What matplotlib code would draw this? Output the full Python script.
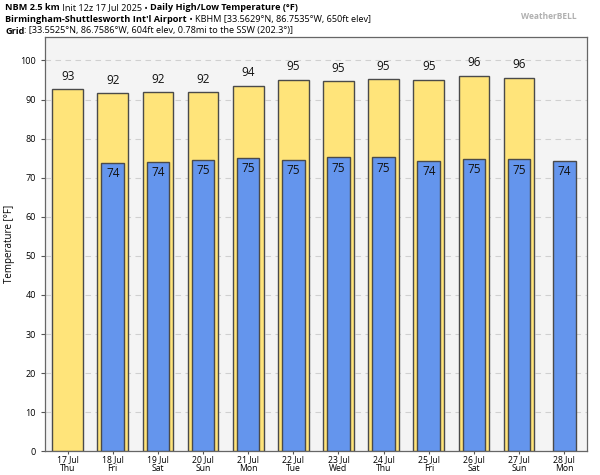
import numpy as np
import matplotlib
matplotlib.use("Agg")
import matplotlib.pyplot as plt

# -----------------------------
# Data
# -----------------------------
dates = ["17 Jul", "18 Jul", "19 Jul", "20 Jul", "21 Jul", "22 Jul",
         "23 Jul", "24 Jul", "25 Jul", "26 Jul", "27 Jul", "28 Jul"]
weekdays = ["Thu", "Fri", "Sat", "Sun", "Mon", "Tue",
            "Wed", "Thu", "Fri", "Sat", "Sun", "Mon"]
highs = [92.6, 91.7, 91.9, 91.9, 93.6, 95.1, 94.7, 95.3, 95.1, 96.1, 95.6, np.nan]
lows = [np.nan, 73.8, 74.0, 74.6, 75.0, 74.6, 75.2, 75.2, 74.4, 74.9, 74.7, 74.4]

plt.rcParams["font.family"] = ["Open Sans", "DejaVu Sans"]

fig = plt.figure(figsize=(6, 4.75), dpi=100)
ax = fig.add_axes([0.075, 0.05, 0.903, 0.872])
ax.set_facecolor("#f4f4f4")

x = np.arange(len(dates))
edge = "#4a4a4a"
ax.bar(x, highs, width=0.68, color="#ffe47a", edgecolor=edge, linewidth=1.0, zorder=3)
ax.bar(x, lows, width=0.5, color="#6495ed", edgecolor=edge, linewidth=1.0, zorder=4)


def lab(v):
    return str(int(np.floor(v + 0.5)))


for xi, h in zip(x, highs):
    if not np.isnan(h):
        ax.annotate(lab(h), (xi, h), xytext=(0, 4.5), textcoords="offset points",
                    ha="center", va="bottom", fontsize=8.5, color="#111111", zorder=5)
for xi, lo in zip(x, lows):
    if not np.isnan(lo):
        ax.annotate(lab(lo), (xi, lo), xytext=(0, -3), textcoords="offset points",
                    ha="center", va="top", fontsize=8.5, color="#111111", zorder=5)

ax.set_xlim(-0.5, len(dates) - 0.5)
ax.set_ylim(0, 106)
ax.set_yticks(np.arange(0, 101, 10))
ax.set_xticks(x)
ax.set_xticklabels([f"{d}\n{w}" for d, w in zip(dates, weekdays)], fontsize=6.2,
                   linespacing=0.95)
ax.tick_params(axis="y", labelsize=6.5, length=3, color="#555555")
ax.tick_params(axis="x", length=2, pad=1, color="#555555")
ax.set_ylabel("Temperature [°F]", fontsize=7)
ax.yaxis.grid(True, linestyle=(0, (5, 4)), color="#d0d0d0", linewidth=0.8, zorder=0)
ax.set_axisbelow(True)
for s in ax.spines.values():
    s.set_color("#666666")
    s.set_linewidth(0.9)

# -----------------------------
# Header with mixed bold / normal pieces
# -----------------------------
lines = [
    [("NBM 2.5 km", "bold"), (" Init 12z 17 Jul 2025 \u2022 ", "normal"),
     ("Daily High/Low Temperature (°F)", "bold")],
    [("Birmingham-Shuttlesworth Int'l Airport", "bold"), (" \u2022 ", "normal"),
     ("KBHM [33.5629°N, 86.7535°W, 650ft elev]", "normal")],
    [("Grid", "bold"), (": [33.5525°N, 86.7586°W, 604ft elev, 0.78mi to the SSW (202.3°)]", "normal")],
]
fig.canvas.draw()
renderer = fig.canvas.get_renderer()
y0 = 1 - 8 / 475
for line in lines:
    xpos = 5 / 600
    for txt, wt in line:
        t = fig.text(xpos, y0, txt, fontsize=6.6, fontweight=wt, va="center", ha="left")
        bb = t.get_window_extent(renderer)
        xpos += bb.width / fig.bbox.width
    y0 -= 11.5 / 475

fig.text(0.915, 0.965, "WeatherBELL", fontsize=6, color="#b0b0b0",
         ha="center", va="center", fontweight="bold")

fig.savefig("out.png", dpi=100)
